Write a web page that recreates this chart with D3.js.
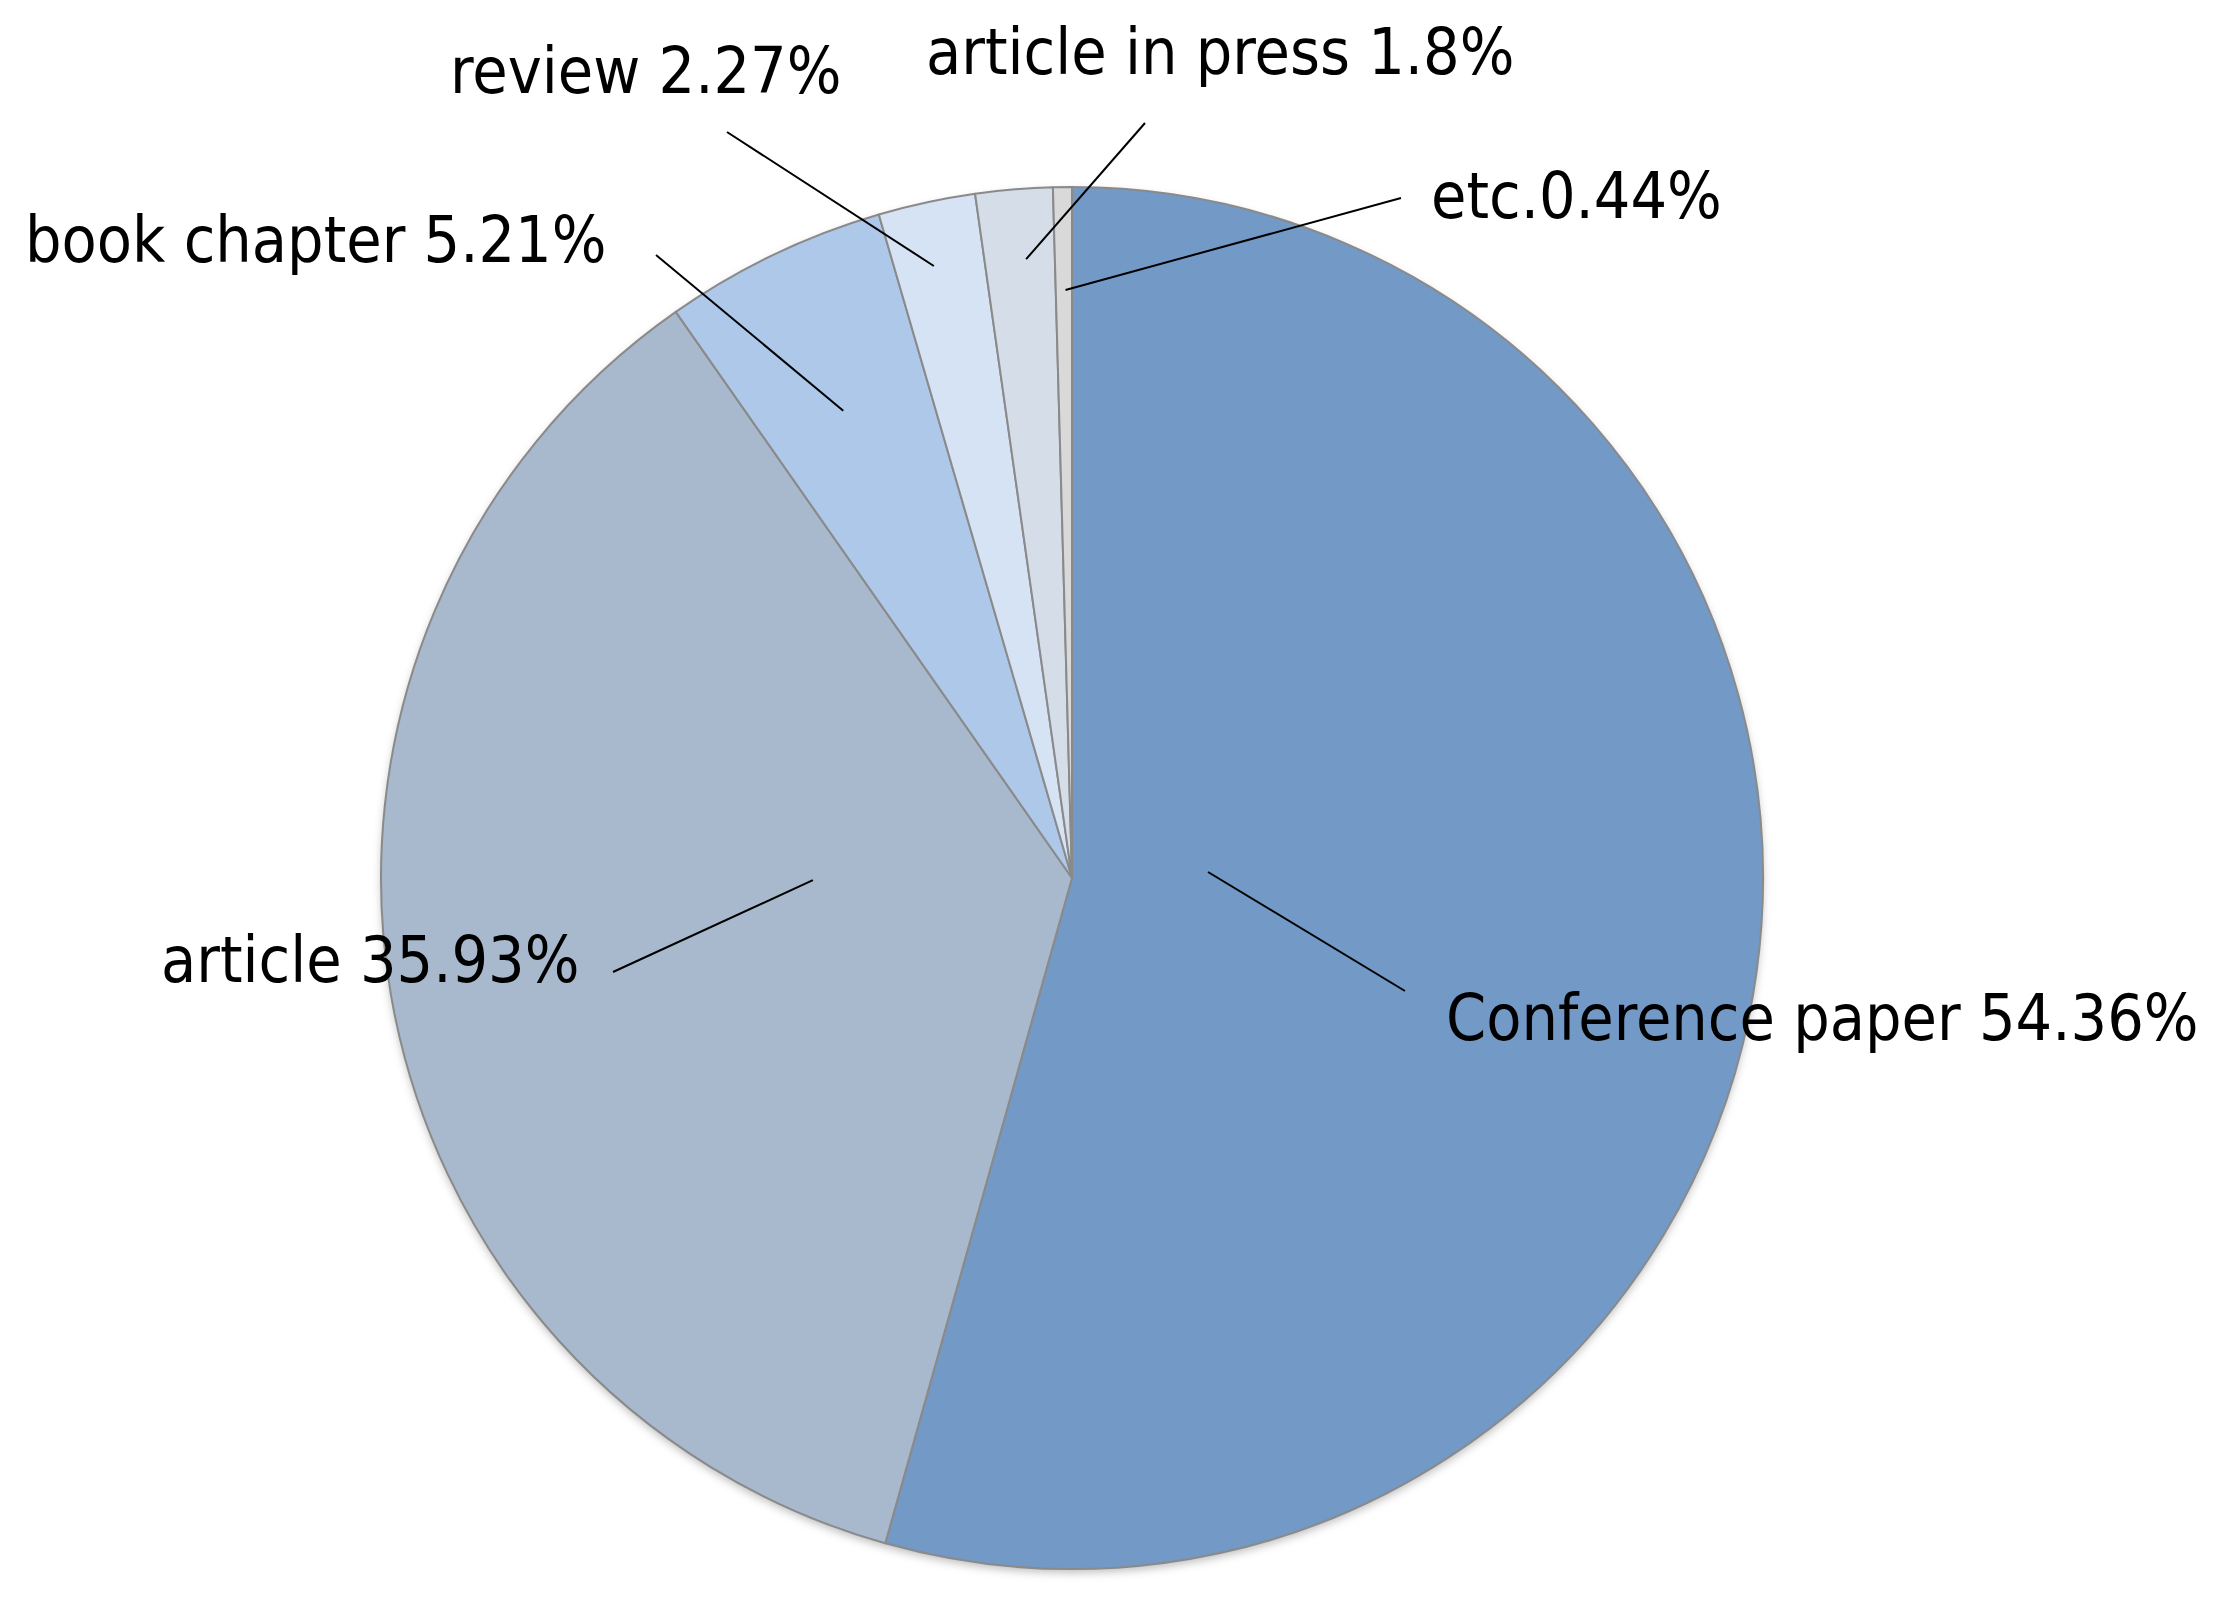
<!DOCTYPE html>
<html>
<head>
<meta charset="utf-8">
<script src="https://cdn.jsdelivr.net/npm/d3@7"></script>
<style>
  html, body { margin: 0; padding: 0; background: #fff; }
  svg { display: block; }
  .lbl { font-family: "DejaVu Sans Condensed", "DejaVu Sans", sans-serif; font-stretch: condensed; fill: #000; }
</style>
</head>
<body>
<svg id="chart" width="2217" height="1598"></svg>
<script>
// ---- data ----
const categories = ["Conference paper", "article", "book chapter", "review", "article in press", "etc"];
const values = [54.36, 35.93, 5.21, 2.27, 1.8, 0.44];
const labels = ["Conference paper 54.36%", "article 35.93%", "book chapter 5.21%", "review 2.27%", "article in press 1.8%", "etc.0.44%"];
const colors = ["#7399c6", "#a8b9cd", "#adc8e8", "#d6e3f4", "#d4dde8", "#d9d9d9"];

// ---- layout ----
const cx = 1072, cy = 878, R = 691;
// label text anchor (x, baseline y)
const labelPos = [[1446, 1040], [161, 982], [25, 262], [450, 93], [926, 74], [1431, 218]];
// outer end of leader line
const lineOuter = [[1405, 991], [613, 972], [656, 255], [727, 132], [1145, 123], [1401, 198]];
// inner end of leader line: fraction along slice angle, fraction of radius
const lineInner = [[0.447, 0.197], [0.571, 0.375], [0.475, 0.753], [0.43, 0.908], [0.59, 0.898], [0.6, 0.851]];
const fontSize = 64;

const svg = d3.select("#chart");
const defs = svg.append("defs");
const f = defs.append("filter").attr("id", "shadow").attr("x", "-10%").attr("y", "-10%").attr("width", "120%").attr("height", "120%");
f.append("feDropShadow").attr("dx", 0).attr("dy", 4).attr("stdDeviation", 4).attr("flood-color", "#000").attr("flood-opacity", 0.25);

const pie = d3.pie().sort(null).value(d => d)(values);
const arc = d3.arc().innerRadius(0).outerRadius(R);

const g = svg.append("g").attr("transform", `translate(${cx},${cy})`);
g.append("circle").attr("r", R).attr("fill", "#fff").attr("filter", "url(#shadow)");
g.selectAll("path.slice").data(pie).enter().append("path")
  .attr("class", "slice")
  .attr("d", arc)
  .attr("fill", (d, i) => colors[i])
  .attr("stroke", "#8a8a8a")
  .attr("stroke-width", 2)
  .attr("stroke-linejoin", "round");

// leader lines
svg.selectAll("line.leader").data(pie).enter().append("line")
  .attr("class", "leader")
  .attr("x1", (d, i) => lineOuter[i][0])
  .attr("y1", (d, i) => lineOuter[i][1])
  .attr("x2", (d, i) => {
    const a = d.startAngle + (d.endAngle - d.startAngle) * lineInner[i][0];
    return cx + Math.sin(a) * R * lineInner[i][1];
  })
  .attr("y2", (d, i) => {
    const a = d.startAngle + (d.endAngle - d.startAngle) * lineInner[i][0];
    return cy - Math.cos(a) * R * lineInner[i][1];
  })
  .attr("stroke", "#000")
  .attr("stroke-width", 2);

svg.selectAll("text.lbl").data(labels).enter().append("text")
  .attr("class", "lbl")
  .attr("x", (d, i) => labelPos[i][0])
  .attr("y", (d, i) => labelPos[i][1])
  .attr("font-size", fontSize)
  .text(d => d);
</script>
</body>
</html>
